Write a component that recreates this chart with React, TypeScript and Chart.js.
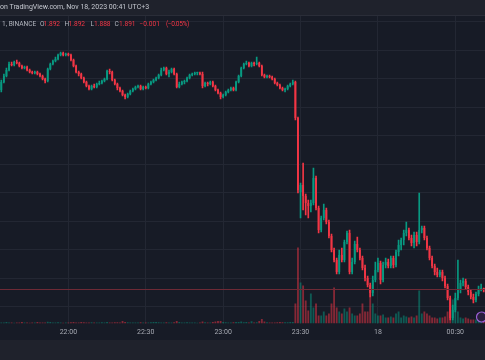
import React, { useEffect, useRef } from 'react';
import { Chart, registerables } from 'chart.js';
Chart.register(...registerables);

// 1-minute candles, 21:34 .. 00:41
const startMinute = 21 * 60 + 34;
const candleCount = 188;
const times: string[] = Array.from({ length: candleCount }, (_, i) => {
  const m = (startMinute + i) % 1440;
  return `${String(Math.floor(m / 60)).padStart(2, '0')}:${String(m % 60).padStart(2, '0')}`;
});

const tickTimes = ['22:00', '22:30', '23:00', '23:30', '00:00', '00:30'];
const tickTexts = ['22:00', '22:30', '23:00', '23:30', '18', '00:30'];

const priceGrid = [2.1585, 2.13, 2.1015, 2.073, 2.0445, 2.016, 1.9875, 1.959, 1.9305, 1.902, 1.8735];

const opens = [
  2.090, 2.098, 2.104, 2.110, 2.116, 2.115, 2.118, 2.117, 2.114, 2.112,
  2.113, 2.110, 2.108, 2.107, 2.108, 2.106, 2.104, 2.101, 2.099, 2.111,
  2.116, 2.119, 2.121, 2.125, 2.127, 2.125, 2.126, 2.125, 2.120, 2.114,
  2.108, 2.106, 2.102, 2.098, 2.094, 2.091, 2.094, 2.093, 2.096, 2.097,
  2.099, 2.101, 2.109, 2.108, 2.100, 2.096, 2.092, 2.089, 2.085, 2.083,
  2.086, 2.089, 2.091, 2.093, 2.094, 2.091, 2.093, 2.092, 2.096, 2.098,
  2.100, 2.102, 2.105, 2.110, 2.112, 2.106, 2.108, 2.111, 2.106, 2.093,
  2.096, 2.098, 2.099, 2.102, 2.105, 2.106, 2.107, 2.107, 2.106, 2.094,
  2.097, 2.096, 2.098, 2.094, 2.090, 2.087, 2.083, 2.085, 2.088, 2.090,
  2.092, 2.090, 2.098, 2.104, 2.112, 2.116, 2.117, 2.114, 2.117, 2.116,
  2.117, 2.114, 2.105, 2.103, 2.104, 2.103, 2.101, 2.097, 2.095, 2.092,
  2.090, 2.091, 2.094, 2.096, 2.098, 2.062, 1.988, 1.995, 1.984, 1.977,
  1.974, 1.977, 2.002, 1.972, 1.950, 1.962, 1.970, 1.958, 1.944, 1.930,
  1.920, 1.908, 1.925, 1.920, 1.938, 1.947, 1.908, 1.918, 1.936, 1.930,
  1.922, 1.912, 1.902, 1.895, 1.887, 1.900, 1.910, 1.917, 1.900, 1.915,
  1.918, 1.914, 1.922, 1.915, 1.928, 1.935, 1.940, 1.947, 1.950, 1.942,
  1.937, 1.945, 1.938, 1.950, 1.952, 1.942, 1.932, 1.922, 1.914, 1.908,
  1.905, 1.908, 1.902, 1.894, 1.882, 1.862, 1.870, 1.882, 1.890, 1.897,
  1.899, 1.893, 1.888, 1.883, 1.880, 1.886, 1.891, 1.892,
];

const highs = [
  2.100, 2.106, 2.112, 2.118, 2.118, 2.119, 2.120, 2.118, 2.115, 2.114,
  2.114, 2.111, 2.109, 2.109, 2.109, 2.107, 2.105, 2.102, 2.112, 2.117,
  2.120, 2.123, 2.126, 2.128, 2.128, 2.127, 2.127, 2.126, 2.121, 2.115,
  2.109, 2.107, 2.103, 2.099, 2.095, 2.095, 2.096, 2.097, 2.099, 2.100,
  2.102, 2.110, 2.111, 2.109, 2.101, 2.097, 2.093, 2.090, 2.086, 2.087,
  2.090, 2.092, 2.094, 2.095, 2.095, 2.094, 2.094, 2.097, 2.099, 2.101,
  2.103, 2.106, 2.112, 2.113, 2.113, 2.110, 2.112, 2.112, 2.107, 2.098,
  2.099, 2.100, 2.103, 2.106, 2.107, 2.108, 2.108, 2.108, 2.108, 2.098,
  2.098, 2.099, 2.099, 2.095, 2.091, 2.088, 2.086, 2.089, 2.091, 2.093,
  2.093, 2.099, 2.105, 2.113, 2.117, 2.119, 2.118, 2.118, 2.118, 2.123,
  2.118, 2.115, 2.106, 2.105, 2.105, 2.104, 2.102, 2.098, 2.096, 2.093,
  2.092, 2.095, 2.097, 2.100, 2.099, 2.063, 1.997, 2.017, 1.986, 1.980,
  1.980, 2.012, 2.004, 1.974, 1.964, 1.976, 1.972, 1.960, 1.946, 1.932,
  1.922, 1.930, 1.932, 1.940, 1.949, 1.950, 1.922, 1.939, 1.943, 1.932,
  1.924, 1.915, 1.904, 1.897, 1.904, 1.918, 1.922, 1.919, 1.918, 1.922,
  1.921, 1.924, 1.924, 1.930, 1.940, 1.942, 1.950, 1.958, 1.952, 1.945,
  1.948, 1.948, 1.987, 1.954, 1.954, 1.944, 1.934, 1.924, 1.916, 1.912,
  1.910, 1.910, 1.904, 1.896, 1.884, 1.875, 1.887, 1.920, 1.900, 1.902,
  1.901, 1.895, 1.890, 1.886, 1.888, 1.894, 1.896, 1.892,
];

const lows = [
  2.088, 2.097, 2.103, 2.109, 2.114, 2.114, 2.116, 2.113, 2.111, 2.111,
  2.109, 2.107, 2.106, 2.106, 2.105, 2.103, 2.100, 2.097, 2.098, 2.110,
  2.115, 2.118, 2.120, 2.124, 2.124, 2.124, 2.124, 2.119, 2.113, 2.107,
  2.104, 2.101, 2.097, 2.093, 2.090, 2.090, 2.092, 2.092, 2.095, 2.096,
  2.098, 2.100, 2.106, 2.099, 2.095, 2.090, 2.088, 2.084, 2.081, 2.082,
  2.085, 2.088, 2.090, 2.092, 2.090, 2.090, 2.091, 2.091, 2.095, 2.097,
  2.099, 2.101, 2.104, 2.109, 2.105, 2.103, 2.107, 2.105, 2.092, 2.092,
  2.095, 2.096, 2.098, 2.101, 2.104, 2.105, 2.105, 2.105, 2.092, 2.093,
  2.094, 2.095, 2.093, 2.089, 2.086, 2.081, 2.082, 2.084, 2.087, 2.089,
  2.089, 2.089, 2.097, 2.103, 2.111, 2.115, 2.113, 2.113, 2.114, 2.115,
  2.113, 2.104, 2.102, 2.102, 2.102, 2.100, 2.096, 2.094, 2.091, 2.089,
  2.088, 2.090, 2.093, 2.095, 2.060, 1.987, 1.962, 1.970, 1.965, 1.962,
  1.968, 1.975, 1.970, 1.947, 1.948, 1.960, 1.956, 1.942, 1.928, 1.918,
  1.906, 1.906, 1.918, 1.918, 1.936, 1.906, 1.906, 1.916, 1.928, 1.920,
  1.910, 1.899, 1.893, 1.883, 1.884, 1.898, 1.908, 1.896, 1.898, 1.912,
  1.912, 1.912, 1.912, 1.913, 1.924, 1.930, 1.935, 1.944, 1.940, 1.934,
  1.932, 1.934, 1.936, 1.947, 1.940, 1.930, 1.920, 1.912, 1.905, 1.903,
  1.903, 1.899, 1.892, 1.880, 1.860, 1.860, 1.868, 1.880, 1.887, 1.894,
  1.891, 1.885, 1.881, 1.877, 1.878, 1.884, 1.889, 1.888,
];

const closes = [
  2.098, 2.104, 2.110, 2.116, 2.115, 2.118, 2.117, 2.114, 2.112, 2.113,
  2.110, 2.108, 2.107, 2.108, 2.106, 2.104, 2.101, 2.099, 2.111, 2.116,
  2.119, 2.121, 2.125, 2.127, 2.125, 2.126, 2.125, 2.120, 2.114, 2.108,
  2.106, 2.102, 2.098, 2.094, 2.091, 2.094, 2.093, 2.096, 2.097, 2.099,
  2.101, 2.109, 2.108, 2.100, 2.096, 2.092, 2.089, 2.085, 2.083, 2.086,
  2.089, 2.091, 2.093, 2.094, 2.091, 2.093, 2.092, 2.096, 2.098, 2.100,
  2.102, 2.105, 2.110, 2.112, 2.106, 2.108, 2.111, 2.106, 2.093, 2.096,
  2.098, 2.099, 2.102, 2.105, 2.106, 2.107, 2.107, 2.106, 2.094, 2.097,
  2.096, 2.098, 2.094, 2.090, 2.087, 2.083, 2.085, 2.088, 2.090, 2.092,
  2.090, 2.098, 2.104, 2.112, 2.116, 2.117, 2.114, 2.117, 2.116, 2.117,
  2.114, 2.105, 2.103, 2.104, 2.103, 2.101, 2.097, 2.095, 2.092, 2.090,
  2.091, 2.094, 2.096, 2.098, 2.062, 1.990, 1.995, 1.984, 1.977, 1.974,
  1.977, 2.002, 1.972, 1.950, 1.962, 1.970, 1.958, 1.944, 1.930, 1.920,
  1.908, 1.925, 1.920, 1.938, 1.947, 1.908, 1.918, 1.936, 1.930, 1.922,
  1.912, 1.902, 1.895, 1.887, 1.900, 1.910, 1.917, 1.900, 1.915, 1.918,
  1.914, 1.922, 1.915, 1.928, 1.935, 1.940, 1.947, 1.950, 1.942, 1.937,
  1.945, 1.938, 1.950, 1.952, 1.942, 1.932, 1.922, 1.914, 1.908, 1.905,
  1.908, 1.902, 1.894, 1.882, 1.862, 1.870, 1.882, 1.890, 1.897, 1.899,
  1.893, 1.888, 1.883, 1.880, 1.886, 1.891, 1.892, 1.891,
];

// volume (thousands)
const volumes = [
  1, 1, 1.5, 1, 1, 0.8, 1, 1, 1.5, 1,
  1, 0.8, 1, 1, 1.5, 1, 1, 1, 1.8, 1.5,
  1, 1, 1.2, 1, 0.8, 1, 1, 1.2, 1.5, 1,
  1, 1.5, 1.2, 1, 1, 1.2, 1, 1, 1, 1.2,
  1, 1.5, 1, 1, 1.2, 1.2, 1, 2.5, 1.5, 1.2,
  1, 1, 1, 1, 1.2, 1, 1, 1, 1.2, 1.5,
  1.5, 1.2, 1, 1, 1.2, 1, 1, 1.2, 2.5, 1.5,
  1, 1, 1.2, 1, 1, 1, 0.8, 1, 2, 1.2,
  1, 1, 1.5, 2, 2.5, 2.5, 1.5, 1.2, 1, 1,
  1.2, 1.5, 1.5, 2, 1.2, 1.5, 1, 2.2, 1, 1.2,
  2.5, 4.5, 2, 1.2, 1, 1, 1, 1.2, 1.5, 1.2,
  1.2, 1.2, 1.5, 1.5, 20, 76, 41, 38, 23, 13,
  30, 16, 20, 8, 8, 12, 8, 10, 20, 36,
  16, 12, 10, 15, 12, 16, 10, 8, 8, 10,
  20, 12, 12, 38, 20, 10, 8, 8, 9, 6,
  6, 7, 6, 10, 12, 6, 8, 7, 6, 7,
  6, 8, 33, 10, 12, 10, 8, 6, 6, 5,
  6, 6, 7, 12, 22, 24, 25, 12, 6, 5,
  6, 5, 4, 4, 4, 3, 3, 2,
];

const UP = '#089981';
const DOWN = '#f23645';
const UP_VOL = 'rgba(8,153,129,0.5)';
const DOWN_VOL = 'rgba(242,54,69,0.5)';
const FONT = 'Roboto, "Liberation Sans", sans-serif';

export default function App() {
  const ref = useRef<HTMLCanvasElement | null>(null);

  useEffect(() => {
    if (!ref.current) return;
    const up = opens.map((o, i) => closes[i] >= o);
    const overlay = {
      id: 'overlay',
      afterDatasetsDraw(chart: any) {
        const { ctx, chartArea, scales } = chart;
        const y = Math.round(scales.y.getPixelForValue(closes[closes.length - 1])) + 0.5;
        ctx.save();
        ctx.strokeStyle = '#6e2a36';
        ctx.lineWidth = 1;
        ctx.beginPath();
        ctx.moveTo(chartArea.left, y);
        ctx.lineTo(chartArea.right, y);
        ctx.stroke();
        // event marker
        ctx.beginPath();
        ctx.arc(481.5, 317, 5, 0, Math.PI * 2);
        ctx.fillStyle = '#2a1f3d';
        ctx.fill();
        ctx.strokeStyle = '#9c5fd6';
        ctx.lineWidth = 1.2;
        ctx.stroke();
        ctx.restore();
      },
    };

    const chart = new Chart(ref.current, {
      type: 'bar',
      data: {
        labels: times,
        datasets: [
          {
            label: 'body',
            data: opens.map((o, i) => [o, closes[i]]) as any,
            backgroundColor: up.map((u) => (u ? UP : DOWN)),
            grouped: false,
            barPercentage: 0.72,
            categoryPercentage: 1,
            minBarLength: 1,
            borderWidth: 0,
            order: 1,
            yAxisID: 'y',
          },
          {
            label: 'wick',
            data: lows.map((l, i) => [l, highs[i]]) as any,
            backgroundColor: up.map((u) => (u ? UP : DOWN)),
            grouped: false,
            barThickness: 1,
            borderWidth: 0,
            order: 2,
            yAxisID: 'y',
          },
          {
            label: 'volume',
            data: volumes,
            backgroundColor: up.map((u) => (u ? UP_VOL : DOWN_VOL)),
            grouped: false,
            barPercentage: 0.72,
            categoryPercentage: 1,
            borderWidth: 0,
            order: 3,
            yAxisID: 'yv',
          },
        ],
      },
      options: {
        animation: false,
        responsive: false,
        maintainAspectRatio: false,
        events: [],
        layout: { padding: { top: 16, left: 0, right: 0, bottom: 0 } },
        plugins: { legend: { display: false }, tooltip: { enabled: false }, title: { display: false } },
        scales: {
          x: {
            type: 'category',
            offset: true,
            grid: { offset: false, color: '#232733', drawTicks: false, lineWidth: 1 },
            border: { display: false },
            ticks: {
              autoSkip: false,
              maxRotation: 0,
              padding: 5,
              color: '#a7aab3',
              font: { family: FONT, size: 7 },
              callback: (val: any) => {
                const k = tickTimes.indexOf(times[val as number]);
                return k >= 0 ? tickTexts[k] : '';
              },
            },
            afterBuildTicks: (scale: any) => {
              scale.ticks = tickTimes.map((t) => ({ value: times.indexOf(t) }));
            },
            afterFit: (scale: any) => {
              scale.height = 16.5;
            },
          },
          y: {
            position: 'right',
            min: 1.8565,
            max: 2.164,
            grid: { color: '#232733', drawTicks: false },
            border: { display: false },
            ticks: { display: false },
            afterBuildTicks: (scale: any) => {
              scale.ticks = priceGrid.map((v) => ({ value: v }));
            },
            afterFit: (scale: any) => {
              scale.width = 0;
            },
          },
          yv: {
            display: false,
            min: 0,
            max: 307.5,
          },
        },
      },
      plugins: [overlay],
    });
    return () => chart.destroy();
  }, []);

  const txt: React.CSSProperties = { position: 'absolute', whiteSpace: 'pre', fontFamily: FONT, lineHeight: 1 };
  const grey = '#b2b5be';
  const legend: [string, number, string][] = [
    ['1, BINANCE', 2, grey],
    ['O', 40, grey], ['1.892', 43.5, DOWN],
    ['H', 64.5, grey], ['1.892', 68.5, DOWN],
    ['L', 90.5, grey], ['1.888', 94, DOWN],
    ['C', 114.5, grey], ['1.891', 119, DOWN],
    ['\u22120.001', 139.5, DOWN], ['(\u22120.05%)', 166, DOWN],
  ];

  return (
    <div style={{ position: 'fixed', left: 0, top: 0, width: 485, height: 360, background: '#171b26', overflow: 'hidden' }}>
      <div style={{ position: 'absolute', left: 0, top: 0, width: 485, height: 15, background: '#1f222c', borderBottom: '1px solid #2a2d38' }} />
      <div style={{ position: 'absolute', left: 0, top: 340, width: 485, height: 20, background: '#1f222c' }} />
      <canvas ref={ref} width={485} height={340} style={{ position: 'absolute', left: 0, top: 0, width: 485, height: 340 }} />
      <div style={{ ...txt, left: 0, top: 4, fontSize: 7, color: '#c5c8d0' }}>on TradingView.com, Nov 18, 2023 00:41 UTC+3</div>
      {legend.map(([s, x, c], i) => (
        <div key={i} style={{ ...txt, left: x, top: 20.5, fontSize: 6.6, color: c, letterSpacing: i === 10 ? -0.4 : 0 }}>{s}</div>
      ))}
    </div>
  );
}
